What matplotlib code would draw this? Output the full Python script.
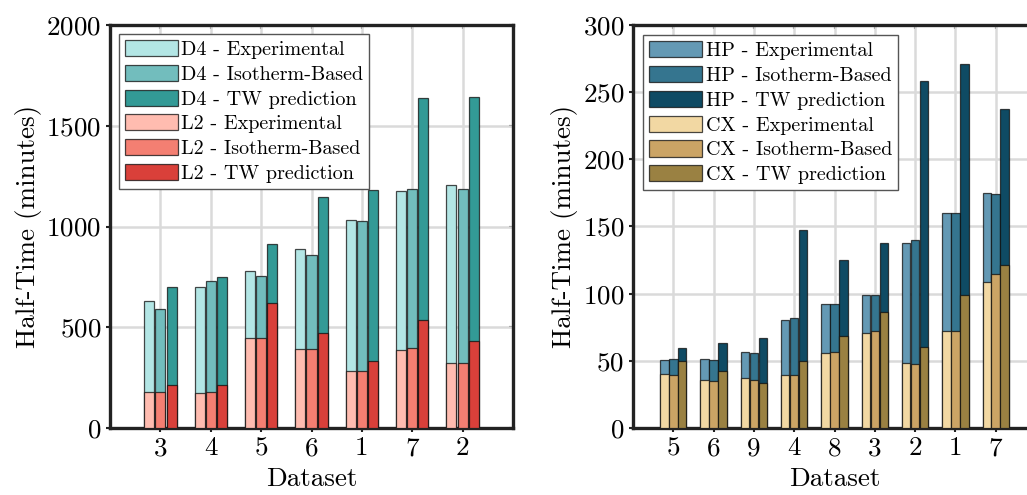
import matplotlib
matplotlib.use("Agg")
import matplotlib.pyplot as plt
from matplotlib.legend_handler import HandlerPatch
import numpy as np

plt.rcParams["font.family"] = "cmr10"
plt.rcParams["mathtext.fontset"] = "cm"
plt.rcParams["axes.formatter.use_mathtext"] = True

# Left panel: D4 / L2 half-times
left_datasets = ["3", "4", "5", "6", "1", "7", "2"]
d4_exp = [629, 700, 778, 886, 1033, 1175, 1204]
d4_iso = [591, 732, 752, 859, 1028, 1187, 1187]
d4_tw = [700, 750, 911, 1146, 1179, 1639, 1642]
l2_exp = [179, 175, 447, 392, 283, 387, 323]
l2_iso = [179, 179, 447, 392, 283, 397, 323]
l2_tw = [214, 214, 621, 472, 331, 538, 434]

# Right panel: HP / CX half-times
right_datasets = ["5", "6", "9", "4", "8", "3", "2", "1", "7"]
hp_exp = [50.5, 51.3, 56.8, 80.3, 92.5, 98.8, 137.4, 160.0, 175.1]
hp_iso = [51.3, 50.5, 55.8, 82.0, 92.5, 98.8, 140.0, 160.0, 174.5]
hp_tw = [59.8, 63.3, 67.0, 147.5, 125.0, 137.5, 258.2, 270.9, 237.6]
cx_exp = [40.5, 35.8, 37.0, 39.3, 56.0, 71.0, 48.3, 72.3, 109.0]
cx_iso = [39.3, 34.8, 35.5, 39.3, 56.8, 72.3, 47.5, 72.3, 115.0]
cx_tw = [50.0, 42.5, 33.3, 49.8, 68.5, 86.5, 60.3, 99.3, 121.0]

left_colors_back = ["#b3e6e5", "#72bdbd", "#339a96"]
left_colors_front = ["#ffbcb0", "#f47f72", "#d9403a"]
right_colors_back = ["#6499b4", "#35758f", "#0f4b64"]
right_colors_front = ["#f2d8a3", "#cba465", "#9a8142"]

kinds = ["Experimental", "Isotherm-Based", "TW prediction"]

TICK_FS = 19.5
LABEL_FS = 19.5
LEGEND_FS = 14.5
EDGE = (0.05, 0.05, 0.05, 0.75)
TICK_COLOR = "#222222"

fig = plt.figure(figsize=(10.27, 4.95), dpi=100)
ax_l = fig.add_axes([110 / 1027, 67 / 495, 403 / 1027, 403 / 495])
ax_r = fig.add_axes([633 / 1027, 67 / 495, 403 / 1027, 403 / 495])


def draw_panel(ax, labels, back, front, back_colors, front_colors,
               back_name, front_name, ymax, yticks, width, leg_anchor):
    x = np.arange(1, len(labels) + 1)
    offsets = [-0.222, 0.0, 0.222]
    handles = []
    for vals, col, kind, off in zip(back, back_colors, kinds, offsets):
        h = ax.bar(x + off, vals, width, color=col, edgecolor=EDGE,
                   linewidth=0.9, zorder=2, label=f"{back_name} - {kind}")
        handles.append(h)
    for vals, col, kind, off in zip(front, front_colors, kinds, offsets):
        h = ax.bar(x + off, vals, width, color=col, edgecolor=EDGE,
                   linewidth=0.9, zorder=3, label=f"{front_name} - {kind}")
        handles.append(h)

    ax.set_xlim(0, len(labels) + 1)
    ax.set_ylim(0, ymax)
    ax.set_xticks(x)
    ax.set_xticklabels(labels)
    ax.set_yticks(yticks)
    ax.set_axisbelow(True)
    ax.grid(True, color="#dadada", linewidth=1.8, zorder=0)

    for sp in ax.spines.values():
        sp.set_linewidth(2.4)
        sp.set_color(TICK_COLOR)
    ax.tick_params(axis="both", which="major", labelsize=TICK_FS,
                   direction="out", length=3, width=1.5, color=TICK_COLOR)
    ax.tick_params(axis="y", pad=3.5)
    ax.tick_params(axis="x", pad=3)
    ax.tick_params(top=False, right=False)
    # mirrored inner ticks on the top and right edges
    sec_x = ax.secondary_xaxis("top")
    sec_x.set_xticks(x)
    sec_x.tick_params(direction="in", length=3, width=1.5, color=TICK_COLOR,
                      labeltop=False)
    sec_x.spines["top"].set_visible(False)
    sec_y = ax.secondary_yaxis("right")
    sec_y.set_yticks(yticks)
    sec_y.tick_params(direction="in", length=3, width=1.5, color=TICK_COLOR,
                      labelright=False)
    sec_y.spines["right"].set_visible(False)

    ax.set_xlabel("Dataset", fontsize=LABEL_FS, labelpad=5)
    ax.set_ylabel("Half-Time (minutes)", fontsize=LABEL_FS, labelpad=3)

    leg = ax.legend(handles=handles, loc="upper left",
                    bbox_to_anchor=leg_anchor, borderaxespad=0,
                    fontsize=LEGEND_FS, frameon=True, fancybox=False,
                    framealpha=1, edgecolor="#555555",
                    handlelength=2.65, handleheight=0.85,
                    handletextpad=0.15, labelspacing=0.29, borderpad=0.3,
                    handler_map={type(handles[0].patches[0]): HandlerPatch(xpad=0.45)})
    leg.get_frame().set_linewidth(1.0)
    leg.set_zorder(5)


draw_panel(ax_l, left_datasets,
           [d4_exp, d4_iso, d4_tw], [l2_exp, l2_iso, l2_tw],
           left_colors_back, left_colors_front, "D4", "L2",
           2000, [0, 500, 1000, 1500, 2000], 0.2, (0.022, 0.978))

draw_panel(ax_r, right_datasets,
           [hp_exp, hp_iso, hp_tw], [cx_exp, cx_iso, cx_tw],
           right_colors_back, right_colors_front, "HP", "CX",
           300, [0, 50, 100, 150, 200, 250, 300], 0.21, (0.025, 0.975))

fig.savefig("out.png", dpi=100)
